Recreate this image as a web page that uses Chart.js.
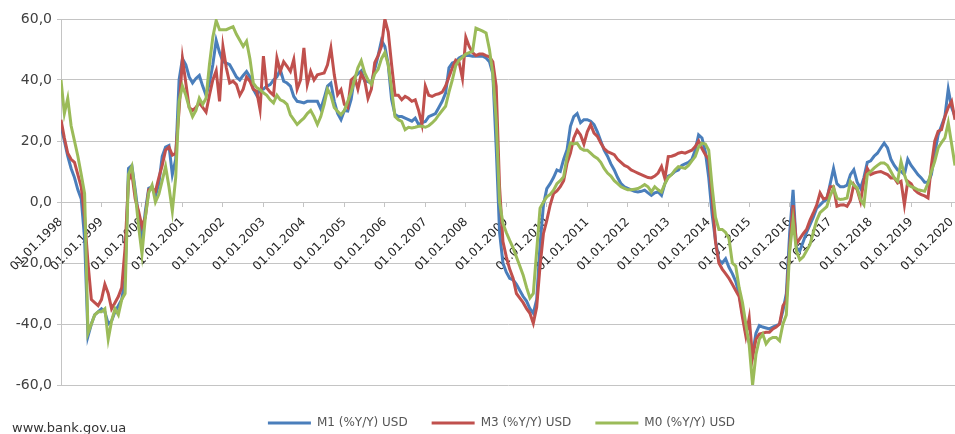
<!DOCTYPE html>
<html>
<head>
<meta charset="utf-8">
<script src="https://cdn.jsdelivr.net/npm/chart.js@4.4.1/dist/chart.umd.min.js"></script>
<style>
  html, body { margin: 0; padding: 0; background: #fff; }
  #wrap { position: relative; width: 955px; height: 434px; overflow: hidden; }
  #src { position: absolute; left: 12px; top: 421px; font: 13px "DejaVu Sans", sans-serif; color: #333; line-height: 13px; }
</style>
</head>
<body>
<div id="wrap">
  <canvas id="chart" width="955" height="434"></canvas>
  <div id="src">www.bank.gov.ua</div>
</div>
<script>
// tick labels of the x axis, one per January
const yearLabels = [
  "01.01.1998", "01.01.1999", "01.01.2000", "01.01.2001", "01.01.2002", "01.01.2003",
  "01.01.2004", "01.01.2005", "01.01.2006", "01.01.2007", "01.01.2008", "01.01.2009",
  "01.01.2010", "01.01.2011", "01.01.2012", "01.01.2013", "01.01.2014", "01.01.2015",
  "01.01.2016", "01.01.2017", "01.01.2018", "01.01.2019", "01.01.2020"
];

// monthly values, Jan 1998 .. Feb 2020 (one row per year)
const m1 = [
  25, 20, 15, 11, 8, 4, 1, -12, -44, -40, -37, -36,
  -35, -36, -40, -39, -36, -34, -32, -25, 11, 12, 4, -5,
  -13, -3, 4.5, 5, 2, 6, 15, 18, 18.5, 9, 14, 40,
  47, 45, 41, 39, 40.5, 41.5, 38, 35, 39, 45, 53, 49,
  46, 45.5, 45, 43, 41, 40, 41.5, 42.8, 41, 37, 35, 36.8,
  37, 38, 38.5, 40, 41, 43.4, 39.6, 39, 38, 34.6, 33, 32.8,
  32.5, 33, 33, 33, 33, 30.5, 34, 38, 39, 33, 29, 27,
  30, 29.8, 33.6, 41, 42, 43, 39.7, 39.5, 39, 43.5, 48, 53,
  51, 45, 33.6, 28.7, 28, 28, 27.5, 27, 26.5, 27.5, 25.4, 26,
  26.4, 28, 28.5, 29, 31, 33, 35.7, 44, 45.6, 46, 47.2, 47.8,
  48, 48, 47.8, 47.8, 47.8, 47.8, 47.2, 46, 42, 18, -10, -20,
  -23, -25, -25.5, -27, -29, -31, -32.5, -35, -36.5, -32, -14, -1,
  4.4, 6, 8, 10.5, 10, 14, 17.1, 24.8, 28, 29, 26, 27,
  27, 26.5, 25.4, 23, 20, 17, 15, 12.5, 10.5, 8, 6, 5,
  4.5, 4, 3.5, 3.3, 3.5, 3.9, 3, 2.2, 3, 3.3, 2.2, 6,
  8.5, 9, 10, 10.5, 12, 12.5, 13, 14, 17, 22, 21, 16.5,
  8, -4, -12.6, -19, -20, -18.6, -21.4, -23.5, -26, -30, -36.7, -43,
  -46, -49.8, -43, -40.5, -41, -41.3, -41.6, -41, -40.5, -40, -35.6, -30,
  -10, 4, -15, -16, -13, -10, -7.5, -5, -2, -1, 0.2, 0.8,
  6, 11, 6, 5, 5, 5.5, 9, 10.6, 6.5, 4.5, 8, 13,
  13.5, 15, 16, 17.7, 19.3, 17.7, 14, 12, 10.5, 10, 9, 14,
  12, 10.5, 9, 7.9, 6.5, 6.5, 9, 16, 22, 25, 28, 37,
  31, 28
];

const m3 = [
  27, 21, 16, 14, 13, 9, 5, -5, -20, -32, -33, -34,
  -32, -27, -30, -35, -33, -31, -28, -15, 7, 9.4, 1, -3,
  -8, -5, 4, 4.5, 3.5, 8, 12, 17, 18, 15.4, 16, 30,
  47, 39, 31, 30, 31, 32.5, 31, 29.5, 35, 40, 43, 33,
  51, 44, 39, 39.6, 38.5, 35, 37, 41, 39.6, 37, 36.3, 30.3,
  47.8, 37.4, 36, 35, 47.2, 42.8, 46, 44.5, 42.8, 46.7, 37, 40,
  50.5, 38.5, 42.8, 40, 41.7, 42, 42.3, 45, 50.5, 41.7, 35.2, 36.8,
  32, 31, 40, 41, 37, 42, 40, 34, 37, 45.7, 48, 51,
  60, 55.7, 45, 35, 35, 33.5, 34.6, 34, 33, 33.5, 30, 25.4,
  38, 35, 34.6, 35.2, 35.5, 36, 38, 41, 44, 46.5, 45.8, 40.5,
  54, 51, 49, 48, 48.5, 48.5, 48, 47.6, 46, 38, 5, -13,
  -18, -22, -25, -30, -31.5, -33, -35, -36.5, -39.8, -34.5, -21, -10.4,
  -6, -1, 2.8, 3.6, 5, 7, 12.7, 16, 21, 23.5, 22, 19,
  23, 25.4, 22.6, 21.5, 19.3, 17.5, 16.5, 16, 15.5, 14, 13, 12,
  11.5, 10.5, 10, 9.5, 9, 8.5, 8, 7.9, 8.5, 9.5, 11.6, 7.7,
  14.9, 15, 15.4, 16, 16.3, 16, 16.5, 17, 18.2, 20, 17.5, 15.5,
  14, 2, -13, -20, -22, -23.5, -25, -27, -29, -31, -37.8, -44,
  -38, -51, -45, -43.3, -43, -42.7, -42.7, -41.6, -41, -40, -34, -32.3,
  -15, -1, -13.7, -12, -10.4, -9, -6, -3.6, -1, 3, 1, 1.3,
  5, 5, -1.4, -1, -0.9, -1.4, 0.5, 5.7, 4, 0.2, 7, 11,
  9, 9.5, 9.8, 10, 9.5, 9, 7.9, 7.9, 6.2, 6.8, -0.9, 6.8,
  6, 4, 3, 2.4, 2, 1.3, 12, 20, 23.2, 23.7, 28, 31,
  33, 27
];

const m0 = [
  40, 29, 34, 25, 20, 15, 9, 2.7, -43, -40, -37, -36,
  -36, -35, -45, -39, -35, -37, -32, -30, 9, 11.7, 3, -8,
  -17, -5, 3, 5.5, 0, 2.5, 7, 11.6, 5, -3, 8, 33,
  38, 35, 31, 28, 30, 34, 32, 34, 45, 54, 59.5, 56.5,
  56.5, 56.5, 57, 57.5, 55, 53, 51, 52.7, 47, 39, 37.5, 36.8,
  35.8, 35, 33.5, 32.5, 35, 33.5, 33, 32, 28.6, 27, 25.4, 26.5,
  27.5, 29, 30, 28, 25.4, 28, 32, 37, 35, 31, 29.7, 28.6,
  30, 33, 36, 40, 44, 46.3, 42.4, 40, 38.6, 42, 43.5, 47,
  49, 45, 37, 28, 27, 26.4, 23.7, 24.5, 24.3, 24.5, 24.8, 24.8,
  24.5, 25, 25.9, 27, 28.6, 30, 31.4, 36, 40, 44.7, 46.5, 47.4,
  48.5, 49, 49.4, 57, 56.5, 56, 55.4, 50, 42, 27, 0, -7,
  -10, -12.6, -15, -18, -21, -24, -28, -31.5, -30, -16, -2, 0,
  1.7, 2.5, 3.9, 6, 7, 8.3, 14.9, 19.3, 19, 19.3, 17.6, 17,
  17, 16, 15, 14.3, 13, 11, 9.5, 8.5, 7, 6, 5, 4.5,
  4, 4, 4.2, 4.4, 5, 5.7, 5, 3.3, 5, 4, 3.3, 6,
  8, 9, 10.5, 11.6, 11.3, 11, 12, 13.5, 14.9, 18, 19.3, 19,
  17, 5, -5, -9, -9, -10, -12, -20, -21, -28, -33, -40,
  -47, -60, -50, -45, -43.3, -46.5, -45, -44.4, -44.4, -45.5, -40, -37,
  -16, -6, -16, -19, -18, -16, -14, -10, -6, -3.5, -2.5, -1.5,
  2, 4.6, 1.3, 0.8, 1, 1.3, 6.8, 5.5, 4.6, 0.8, -0.9, 9,
  10, 11.1, 12, 12.8, 12.8, 12, 10, 7.9, 6.8, 13.3, 9, 5.7,
  5, 4.6, 4, 3.8, 3.5, 6.2, 10, 13.3, 17.7, 19.5, 21, 26,
  19, 12
];

const seriesNames = ["M1 (%Y/Y) USD", "M3 (%Y/Y) USD", "M0 (%Y/Y) USD"];
const yTicks = [-60, -40, -20, 0, 20, 40, 60];

const points = arr => arr.map((v, i) => ({ x: i, y: v }));

Chart.defaults.font.family = "'DejaVu Sans', sans-serif";
Chart.defaults.color = "#404040";

const gridColor = "#c4c4c4";

function line(label, data, color, order) {
  return {
    label: label,
    data: points(data),
    borderColor: color,
    backgroundColor: color,
    borderWidth: 3,
    pointRadius: 0,
    tension: 0,
    order: order
  };
}

// legend sits a little right of the canvas centre in the original
const legendShift = {
  id: "legendShift",
  afterLayout(chart) {
    chart.legend.left += 24;
    chart.legend.right += 24;
  }
};

new Chart(document.getElementById("chart"), {
  type: "line",
  data: {
    datasets: [
      line(seriesNames[0], m1, "#4a7ebb", 3),
      line(seriesNames[1], m3, "#c0504d", 2),
      line(seriesNames[2], m0, "#9bbb59", 1)
    ]
  },
  plugins: [legendShift],
  options: {
    responsive: false,
    devicePixelRatio: 1,
    animation: false,
    layout: { padding: { left: 0, right: 0, top: 19, bottom: -5 } },
    plugins: {
      tooltip: { enabled: false },
      legend: {
        position: "bottom",
        // empty title only adds room above the items
        title: { display: true, text: "", font: { size: 5, lineHeight: 1 }, padding: { top: 0, bottom: 3 } },
        labels: {
          usePointStyle: true,
          pointStyle: "line",
          pointStyleWidth: 43,
          padding: 24,
          font: { size: 12 },
          color: "#555",
          sort: (a, b) => a.datasetIndex - b.datasetIndex
        }
      }
    },
    scales: {
      x: {
        type: "linear",
        position: { y: 0 },
        min: 0,
        max: m1.length - 1,
        grid: { drawOnChartArea: false, drawTicks: true, tickLength: 4, color: gridColor },
        border: { color: gridColor },
        ticks: {
          stepSize: 12,
          includeBounds: false,
          autoSkip: false,
          maxRotation: 45,
          minRotation: 45,
          padding: 9,
          font: { size: 12 },
          color: "#262626",
          callback: v => yearLabels[v / 12]
        },
        afterFit: s => { s.paddingLeft = 0; s.paddingRight = 0; }
      },
      y: {
        min: -60,
        max: 60,
        afterBuildTicks: s => { s.ticks = yTicks.map(v => ({ value: v })); },
        grid: { color: gridColor, tickLength: 4 },
        border: { color: gridColor },
        ticks: {
          padding: 5,
          font: { size: 14 },
          color: "#404040",
          callback: v => v.toFixed(1).replace(".", ",")
        },
        afterFit: s => { s.width = 61; s.paddingTop = 0; s.paddingBottom = 0; }
      }
    }
  }
});
</script>
</body>
</html>
